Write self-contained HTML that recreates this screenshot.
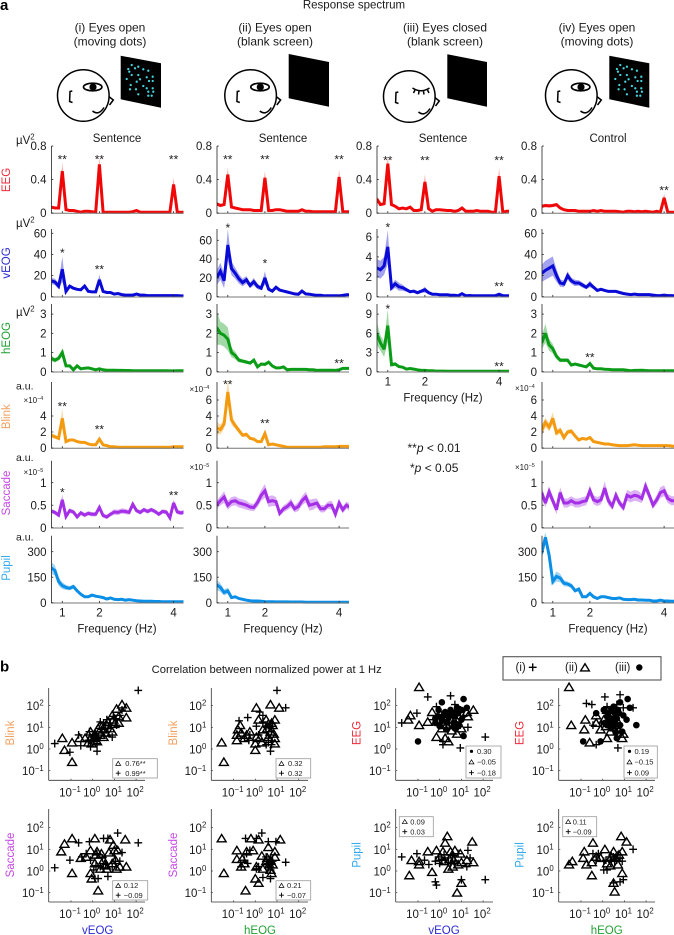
<!DOCTYPE html>
<html>
<head>
<meta charset="utf-8">
<style>
html,body{margin:0;padding:0;background:#fff;width:674px;height:935px;overflow:hidden}
svg{display:block}
text{font-family:"Liberation Sans",sans-serif;fill:#1a1a1a}
</style>
</head>
<body>
<svg id="fig" width="674" height="935" viewBox="0 0 674 935" xmlns="http://www.w3.org/2000/svg"></svg>
<script>
/* ---------- spectrum data ---------- */
const freqs=[0.7,0.8,0.9,1.0,1.1,1.2,1.3,1.4,1.5,1.6,1.7,1.8,1.9,2.0,2.1,2.2,2.3,2.4,2.5,2.6,2.7,2.8,2.9,3.0,3.1,3.2,3.3,3.4,3.5,3.6,3.7,3.8,3.9,4.0,4.1,4.2,4.3];
const freqTicks=[1,2,4];

const eegM1=[.07,.06,.06,.50,.04,.03,.03,.02,.01,.02,.02,.015,.01,.58,.01,.01,.01,.01,.01,.01,.01,.01,.015,.03,.01,.01,.01,.01,.01,.01,.01,.01,.01,.34,.01,.01,.01];
const eegS1=[.015,.01,.01,.10,.01,.008,.008,.006,.005,.006,.006,.005,.005,.09,.005,.005,.005,.005,.005,.005,.005,.005,.005,.008,.005,.005,.005,.005,.005,.005,.005,.005,.005,.08,.005,.005,.005];
const eegM2=[.11,.09,.10,.46,.07,.06,.05,.04,.04,.04,.03,.03,.03,.42,.03,.03,.04,.04,.03,.02,.02,.02,.02,.04,.02,.02,.015,.015,.015,.015,.015,.015,.015,.43,.015,.015,.015];
const eegS2=[.02,.015,.015,.08,.012,.01,.01,.008,.008,.008,.006,.006,.006,.08,.006,.006,.006,.006,.006,.005,.005,.005,.005,.008,.005,.005,.005,.005,.005,.005,.005,.005,.005,.09,.005,.005,.005];
const eegM3=[.17,.10,.11,.59,.10,.08,.05,.06,.05,.07,.03,.03,.04,.37,.05,.02,.04,.04,.035,.03,.03,.02,.03,.06,.02,.02,.02,.03,.02,.02,.02,.01,.01,.44,.01,.02,.02];
const eegS3=[.025,.015,.015,.09,.015,.012,.01,.01,.01,.01,.008,.008,.008,.09,.01,.006,.008,.008,.007,.006,.006,.005,.006,.01,.005,.005,.005,.006,.005,.005,.005,.005,.005,.10,.005,.005,.005];
const eegM4=[.08,.09,.085,.09,.10,.06,.04,.03,.03,.03,.02,.02,.02,.02,.03,.02,.03,.02,.02,.02,.02,.015,.01,.02,.02,.015,.02,.015,.02,.015,.01,.02,.01,.18,.01,.01,.01];
const eegS4=[.02,.02,.02,.02,.02,.012,.01,.008,.008,.008,.006,.006,.006,.006,.006,.006,.006,.005,.005,.005,.005,.005,.005,.005,.005,.005,.005,.005,.005,.005,.005,.005,.005,.05,.005,.005,.005];

const veogM1=[15,14,10,26,5,10,8,7,6.5,10,5,4.5,4.5,16,5,4,4,2.5,3,2,1.5,1.5,1.5,2.5,1.5,1.5,1,1,1,1,1,1,1,1,1,.8,.8];
const veogS1=[3,3,3,12,1.5,1.5,1.5,1,1,1.5,1,1,1,5,1,1,.8,.6,.6,.5,.4,.4,.4,.5,.4,.4,.3,.3,.3,.3,.3,.3,.3,.3,.3,.3,.3];
const veogM2=[20,27,17,55,30,25,19,15,18,12,16,11,9,20,8,6,10,7,6,5,4,3,2.5,6,3,2.5,2,1.5,1.5,1,1,1,1,1,1.5,2,2];
const veogS2=[8,9,8,17,7,6,5,4,4,3,4,3,2,7,2,1.5,2,1.5,1,1,1,.8,.7,1.2,.7,.6,.5,.5,.5,.4,.4,.4,.4,.5,.6,.6,.6];
const veogM3=[2.9,2.7,3.1,5.0,.9,1.3,1.0,.9,.7,.5,.55,.4,.55,.7,.4,.25,.25,.2,.2,.2,.15,.15,.1,.3,.1,.12,.1,.1,.1,.1,.1,.1,.1,.25,.1,.1,.1];
const veogS3=[.9,.9,.9,1.7,.3,.4,.4,.3,.2,.15,.15,.12,.15,.3,.1,.08,.08,.07,.06,.06,.05,.05,.05,.08,.05,.05,.04,.04,.04,.04,.04,.04,.04,.08,.04,.04,.04];
const veogM4=[22,25,27,29,20,13,12,20,15,13,13,11,9,12,9,6,7,6,5,5,5,4,3,2.5,2,2.5,2,2,2,2,1.5,1,1,1.5,1,1,.8];
const veogS4=[8,9,9,9,6,3.5,3,4,3,3,2.5,2.5,2,3,2,1.5,1.5,1,1,1,.8,.8,.6,.6,.5,.5,.5,.5,.5,.4,.4,.3,.3,.4,.3,.3,.3];

const heogM1=[.7,.6,.7,1.0,.3,.3,.1,.3,.15,.18,.2,.15,.1,.15,.1,.08,.08,.08,.07,.07,.06,.06,.05,.05,.05,.05,.05,.05,.05,.05,.05,.05,.04,.04,.05,.05,.05];
const heogS1=[.15,.12,.12,.2,.06,.05,.03,.05,.03,.03,.03,.03,.02,.03,.02,.02,.02,.02,.02,.02,.02,.02,.02,.02,.02,.02,.02,.02,.02,.02,.02,.02,.02,.02,.02,.02,.02];
const heogM2=[2.3,2.0,1.9,1.7,1.0,.85,.6,.55,.5,.45,.6,.25,.4,.38,.5,.3,.2,.2,.25,.1,.12,.12,.12,.12,.12,.1,.1,.07,.08,.08,.08,.08,.07,.1,.17,.17,.17];
const heogS2=[.9,.6,.6,.6,.25,.2,.12,.1,.1,.08,.1,.06,.08,.08,.08,.06,.05,.05,.05,.03,.03,.03,.03,.03,.03,.03,.03,.03,.03,.03,.03,.03,.03,.03,.04,.04,.04];
const heogM3=[6,4.5,3.5,7.2,1.1,1.2,.8,.7,.4,.5,.4,.3,.2,.2,.15,.15,.1,.1,.1,.08,.08,.08,.07,.07,.07,.06,.06,.06,.06,.06,.06,.06,.06,.06,.06,.06,.06];
const heogS3=[1.8,1.2,1.2,2.6,.3,.3,.2,.15,.1,.1,.1,.08,.06,.06,.05,.05,.04,.04,.04,.03,.03,.03,.03,.03,.03,.03,.03,.03,.03,.03,.03,.03,.03,.03,.03,.03,.03];
const heogM4=[1.5,2,1.4,1.2,.8,.6,.6,.6,.35,.4,.35,.3,.25,.42,.18,.15,.15,.13,.12,.1,.1,.1,.1,.08,.05,.07,.07,.08,.06,.05,.05,.05,.05,.05,.05,.05,.05];
const heogS4=[.35,.5,.3,.25,.15,.1,.1,.1,.05,.05,.05,.05,.04,.06,.03,.03,.03,.03,.02,.02,.02,.02,.02,.02,.02,.02,.02,.02,.02,.02,.02,.02,.02,.02,.02,.02,.02];

const blinkM1=[1.6,1.4,1.2,3.7,.8,1,1,.8,.7,.7,.5,.4,.4,1.1,.4,.3,.15,.15,.1,.1,.1,.1,.1,.1,.1,.1,.1,.1,.1,.1,.1,.1,.1,.15,.15,.15,.15];
const blinkS1=[.3,.25,.2,1.2,.15,.15,.15,.12,.1,.1,.08,.08,.08,.35,.08,.06,.05,.05,.05,.05,.05,.05,.05,.05,.05,.05,.05,.05,.05,.05,.05,.05,.05,.05,.05,.05,.05];
const blinkM2=[2.5,2.3,3,7,3.5,2.8,2.2,1.6,1.7,1.2,1.1,.8,.8,1.8,.4,.5,.4,.3,.2,.1,.1,.1,.1,.1,.1,.1,.1,.1,.1,.15,.15,.15,.15,.2,.2,.2,.2];
const blinkS2=[.8,.6,.6,1.6,.6,.4,.35,.25,.25,.2,.2,.15,.15,.45,.1,.1,.08,.06,.05,.05,.05,.05,.05,.05,.05,.05,.05,.05,.05,.05,.05,.05,.05,.05,.05,.05,.05];
const blinkM4=[2.2,3.2,2.6,3.7,1.9,2.2,1.3,2,2.1,1.5,1,1.2,1.1,1.3,.8,.7,.6,.5,.5,.4,.35,.3,.3,.3,.35,.4,.35,.3,.3,.3,.3,.3,.3,.3,.3,.25,.2];
const blinkS4=[.7,.6,.5,.8,.4,.4,.3,.3,.3,.25,.2,.2,.15,.2,.1,.1,.1,.08,.08,.06,.06,.06,.05,.05,.05,.05,.05,.05,.05,.05,.05,.05,.05,.05,.05,.05,.05];

const sacM1=[.37,.34,.28,.62,.25,.38,.35,.24,.33,.28,.32,.3,.3,.45,.27,.24,.3,.35,.34,.37,.36,.34,.52,.38,.34,.4,.36,.4,.36,.3,.36,.35,.22,.55,.35,.33,.35];
const sacS1=[.05,.05,.05,.12,.05,.05,.05,.05,.05,.05,.05,.05,.05,.07,.05,.05,.05,.06,.06,.06,.06,.05,.06,.05,.05,.05,.05,.05,.05,.05,.05,.05,.05,.08,.05,.05,.05];
const sacM2=[.5,.6,.68,.5,.58,.6,.55,.53,.5,.46,.45,.56,.72,.82,.58,.6,.58,.32,.42,.47,.55,.42,.47,.6,.68,.5,.52,.55,.42,.42,.5,.5,.3,.55,.4,.5,.45];
const sacS2=[.1,.1,.13,.1,.1,.1,.1,.1,.1,.08,.08,.1,.12,.15,.12,.12,.1,.06,.08,.08,.1,.08,.1,.1,.12,.12,.12,.1,.08,.08,.08,.1,.08,.1,.08,.08,.08];
const sacM4=[.78,.55,.8,.6,.4,.78,.55,.55,.6,.55,.55,.58,.6,.82,.62,.58,.62,.88,.6,.48,.72,.55,.45,.72,.68,.72,.7,.65,.92,.72,.5,.62,.78,.82,.65,.6,.6];
const sacS4=[.12,.1,.12,.1,.1,.12,.1,.1,.1,.1,.1,.1,.1,.12,.1,.1,.1,.15,.1,.08,.1,.08,.08,.12,.12,.12,.12,.1,.12,.1,.08,.1,.12,.12,.1,.1,.1];

const pupM1=[205,190,125,100,90,85,95,70,50,35,35,45,38,35,30,22,28,20,18,20,15,18,15,12,10,8,8,8,7,7,6,6,6,6,6,6,6];
const pupS1=[35,30,25,20,15,12,12,10,8,6,6,6,5,5,5,4,4,4,4,4,3,3,3,3,3,3,3,3,3,3,3,3,3,3,3,3,3];
const pupM2=[105,90,60,70,30,35,25,20,15,12,10,10,8,6,6,6,5,5,5,5,4,4,4,4,3,3,3,3,3,3,3,3,3,3,3,3,3];
const pupS2=[30,25,18,18,8,8,6,5,4,3,3,3,3,2,2,2,2,2,2,2,2,2,2,2,2,2,2,2,2,2,2,2,2,2,2,2,2];
const pupM4=[290,385,280,125,155,145,115,110,100,70,80,35,35,55,35,25,35,35,30,25,25,28,20,18,18,20,16,16,15,15,10,10,15,10,10,9,8];
const pupS4=[40,30,30,20,30,25,18,15,15,10,12,6,6,8,6,5,5,5,4,4,4,4,3,3,3,3,3,3,3,3,3,3,3,3,3,3,3];

const eegTicks=[0,0.4,0.8];
const eegTickText=["0","0.4","0.8"];
const veogTicks=[0,20,40,60];
const veogTicksC3=[0,2,4,6];
const heogTicks=[0,1,2,3];
const heogTicksC3=[0,3,6,9];
const blinkTicksC1=[0,2,4];
const blinkTicksC2=[0,2,4,6];
const sacTicks=[0,0.5,1];
const pupTicks=[0,150,300];

/* ---------- scatter data: log10(power) pairs [x, y] ---------- */
const blinkVeogTri=[[-1.4,.5],[-1.3,-.05],[-.95,.3],[-.95,-.6],[-.6,.5],[-.35,.5],[-.1,.5],[.1,.7],[.2,.35],[.35,1.1],[.35,.65],[.5,.9],[.65,1.1],[.8,.95],[.9,1.55],[.95,1.35],[1.1,1.85],[1.35,2.05],[1.55,1.9],[1.55,1.45],[1.2,1.5],[.7,1.25],[-.05,.25],[.25,.95],[.05,.5],[.5,.55],[.9,.8],[-.1,.8],[.6,.75],[1,1.15],[.3,.8],[-.2,.3],[.15,.55],[1.2,1.2]];
const blinkVeogPlus=[[2.1,2.7],[-1.75,.25],[-1.05,-.15],[-.65,.65],[-.55,.15],[-.15,.8],[-.1,.1],[.2,-.1],[.05,.35],[.35,1.25],[.65,1.35],[.9,.55],[1.05,1.4],[1.35,1.8],[1.25,1.55],[.7,.95],[.5,1.2],[.25,.55],[-.05,.4],[.8,1.1],[.2,.25],[-.2,.4],[.95,1.5],[.4,.9],[.6,1.1],[1.1,1.1],[.1,.6]];
const blinkHeogTri=[[-1.55,.3],[-1.45,-.6],[-.85,.4],[-.8,.9],[-.7,1.1],[-.4,.65],[.05,1.9],[.15,1.35],[0,.25],[0,-.05],[.05,.55],[.7,2.05],[1.1,1.9],[.5,1.35],[.9,1.35],[.9,.5],[.6,.55],[.35,.9],[-.25,.8],[-.5,.5],[.7,.8],[.9,.25],[.2,.5],[.8,1.1],[-.85,.65],[.55,.95],[.75,1.2],[.3,.3],[-.65,.75],[.6,1.15],[.85,.7]];
const blinkHeogPlus=[[1,2.7],[1.4,1.9],[-.75,1.3],[-.35,1.45],[.2,1.7],[.35,1.55],[.7,-.1],[.5,.2],[.6,.5],[-.5,.5],[-.3,.4],[.8,1.2],[.5,1.05],[.35,1.25],[.75,.8],[.75,.2],[.05,1.05],[-.25,.65],[.65,1],[.6,.3],[.15,.65],[-.1,.4]];
const sacVeogTri=[[-1.3,1.25],[-1.45,.9],[-.95,1.5],[-.95,-.1],[-.55,.6],[-.1,.95],[.2,.9],[.1,1.5],[-.1,-.1],[-.05,-.35],[.25,-.9],[.8,1.45],[.95,1.2],[1.15,.95],[1.5,1.45],[1.55,.2],[1.25,.2],[.9,.35],[.5,.5],[.1,.35],[.35,.1],[.65,.1],[-.3,.65],[.4,.8],[1.05,.5],[1.1,.1],[.55,.3],[.75,.85],[.15,.75],[1,.95],[.6,.25]];
const sacVeogPlus=[[-1.75,.15],[-1.05,.5],[-.65,1.3],[-.15,1.35],[.5,1.5],[1.15,1.75],[2.1,1.3],[.7,-.25],[.1,-.35],[.25,-.35],[-.3,.8],[-.1,.5],[1.35,.85],[1.05,.45],[.2,.8],[.35,.2],[.9,.2],[1.25,.45],[.7,1.5],[.05,.05],[-.5,.65],[.6,.3],[.45,.6],[1,.8],[.15,.25]];
const sacHeogTri=[[-1.55,1.5],[-1.45,-.1],[-.85,.95],[-.85,.55],[-.65,.2],[-.45,-.9],[-.2,1.5],[.15,1.45],[-.4,.9],[0,-.35],[.15,-.55],[.05,.2],[.6,1.1],[1.15,1.45],[.9,.9],[.75,-.1],[.5,.45],[.7,.5],[.35,.1],[-.1,.95],[.9,.65],[-.5,.35],[.55,.6],[.8,.3],[.7,.05],[-.6,.55],[.3,.7],[.65,.3]];
const sacHeogPlus=[[.3,1.75],[-.45,1.5],[.05,1.5],[.6,1.35],[.95,1.35],[1.4,.4],[.35,-.3],[.7,-.35],[.7,.5],[-.5,.5],[-.65,.2],[-.25,.95],[.15,.2],[.7,.05],[.5,.65],[.8,.45],[-.4,.8],[.05,.1],[.55,.35],[.6,.15],[.75,.3],[-.35,.35]];
const eegVeogTri=[[-.95,2.85],[-1.35,1.55],[-1.45,1.35],[-.95,1.1],[-.55,1.25],[-.35,1.7],[-.15,.55],[.25,.5],[.4,.35],[0,1.65],[.3,1.5],[.8,.7],[1,.95],[1.3,1.5],[1.55,1.8],[1.25,1.7],[.65,1.1],[.1,.95],[.85,1.55],[.5,1.35],[.3,1.1],[.75,1.15],[-.1,1.35],[.55,.85]];
const eegVeogPlus=[[-1.75,1.2],[-1.05,1.65],[-.55,2.4],[.5,2.45],[.7,2.05],[2.1,.55],[.95,.05],[.15,.2],[.15,.35],[1.3,1],[-.15,1.95],[0,1.2],[.8,.95],[1.1,1.5],[.3,1.1],[.55,1.65],[-.3,1.35],[.95,1.8],[.45,1.2],[.75,1.25],[.1,1.5]];
const eegVeogDot=[[-1,.35],[1.1,2.3],[.1,2.15],[1.1,.6],[-.05,1.8],[-.2,1.2],[0,1.05],[.15,1.5],[.5,1.8],[.7,.95],[.8,1.9],[1.25,1.9],[1,1.35],[-.05,1.5],[.3,.9],[.65,1.2],[.85,1.65],[-.2,1.4],[.25,1.7],[1,1.8],[.7,1.5],[.4,1.5],[.55,1.55],[.1,1.3],[.75,1.7],[.35,1.25],[.9,1.1]];
const eegHeogTri=[[-1.55,2.85],[-1.45,1.1],[-.8,1.35],[-.85,.9],[-.6,.3],[-.3,1.2],[.2,.5],[.9,.5],[.95,.7],[-.3,1.55],[.2,1.8],[.5,1],[.35,.8],[.7,1.25],[-.1,.9],[.05,1.35],[.3,1.3],[.55,1.1],[.15,1.05],[.75,.9]];
const eegHeogPlus=[[-.75,2.1],[-.5,2.05],[.1,2.4],[.8,2.5],[1.4,1.9],[.7,.05],[-.3,.2],[-.45,1.1],[.2,1.95],[.95,1.9],[.5,1.5],[.8,.8],[-.05,1.2],[.35,1.65],[.65,2.05],[.25,1.05],[.4,1.35],[.6,.95]];
const eegHeogDot=[[-.9,.35],[-.1,.35],[1.55,1.1],[1.15,2.3],[.8,2.15],[1.25,1.9],[-.3,1.65],[.2,1.5],[.4,1.8],[.55,1.65],[.35,1.25],[.8,1.1],[1.1,1.35],[.65,.5],[.4,.95],[.1,1.2],[.95,1.55],[.65,1.4],[.5,1.95],[.25,1.65],[.9,.8],[.05,1.8],[.5,1.35],[.6,1.15],[.3,1.45],[.7,1.8],[.45,1.05],[.75,1.65],[.2,1.1],[.6,.75]];
const pupVeogTri=[[-1.4,-.2],[-1.3,.5],[-.95,.45],[-.95,.3],[-.55,.9],[-.35,-.05],[-.15,.95],[.35,1.6],[.25,1.3],[1.5,1.35],[1.55,.4],[.8,-1],[1,-.55],[.95,.8],[.4,.1],[0,.65],[.65,.5],[.85,.3],[1.25,.5],[.15,.9],[.5,.9],[.7,.95],[.2,.45],[.45,.55],[.6,.2],[1,.4]];
const pupVeogPlus=[[-1.75,.65],[-1.05,.8],[-.7,.5],[-.5,.3],[-.2,-.5],[-.15,-.65],[1,-.4],[2.1,-.4],[1.3,.95],[-.05,.65],[.25,.5],[.7,.45],[1.25,.2],[0,.35],[.85,.8],[.5,.35],[-.2,.45],[1.4,.6],[.1,.55],[.4,.6],[.6,.7],[.2,.75]];
const pupHeogTri=[[-1.55,.3],[-1.4,.45],[-.85,.9],[-.9,.6],[-.75,.3],[-.5,-.2],[-.45,1.3],[-.3,.65],[.1,1],[.5,.9],[.85,1.6],[1.1,1.35],[.9,.9],[.9,-.1],[.55,-.95],[.5,-.55],[.7,.3],[.2,.35],[-.1,.6],[.4,.65],[.35,.25],[.6,.6],[-.5,.4],[.75,.75]];
const pupHeogPlus=[[1.4,1],[-.45,.8],[-.3,.5],[.95,-.4],[.8,-.5],[.05,.05],[.2,.05],[.5,-.55],[-.2,.8],[.5,.65],[.8,.6],[.65,.5],[.05,.45],[.35,.65],[.9,.45],[-.3,.65],[.55,.45],[.7,.75],[.15,.5],[.4,.45]];
const logTicks=[-1,0,1,2];

/* ---------- helpers ---------- */
const NS='http://www.w3.org/2000/svg';
const fig=document.getElementById('fig');
function mk(tag,attrs,parent){
  const e=document.createElementNS(NS,tag);
  for(const k in attrs){e.setAttribute(k,attrs[k]);}
  (parent||fig).appendChild(e);
  return e;
}
function label(str,x,y,size,anchor,color,parent,rot,weight){
  const attrs={x:x,y:y,'font-size':size,'text-anchor':anchor||'start'};
  if(color){attrs.style='fill:'+color;}
  if(rot){attrs.transform='rotate(-90 '+x+' '+y+')';}
  if(weight){attrs['font-weight']=weight;}
  const t=mk('text',attrs,parent);
  t.textContent=str;
  
  
  return t;
}
function exponent(base,power,x,y,size,anchor,parent){
  const t=mk('text',{x:x,y:y,'font-size':size,'text-anchor':anchor},parent);
  
  
  const a=mk('tspan',{},t);a.textContent=base;
  const b=mk('tspan',{dy:-size*0.38,'font-size':size*0.68},t);b.textContent=power;
  return t;
}

/* ---------- header text ---------- */
const panelA=label('a',0,10,15,'start','#000',fig,null,'bold');

const specTitle=label('Response spectrum',354,8.5,11.5,'middle');

const condCenters=[110,275,445,597];
const condA=['(i) Eyes open','(ii) Eyes open','(iii) Eyes closed','(iv) Eyes open'];
const condB=['(moving dots)','(blank screen)','(blank screen)','(moving dots)'];
condCenters.forEach(function(cx,i){
  const a=label(condA[i],cx,31.5,12,'middle');
  
  const b=label(condB[i],cx,45.5,12,'middle');
  
});

/* ---------- face illustrations ---------- */
const dotCoords=[[131.7,65],[128.3,69],[138.3,66.7],[135,68.3],[143.3,69.3],[148.3,70.7],[129.3,71.7],[131.7,75],[126.7,79],[138.3,75],[140,79.3],[146.7,77.3],[152.7,76.7],[149,81],[152.7,81],[130.7,85],[136.7,81.7],[130,89.3],[136,89.3],[143.3,86],[146.7,88.3],[152.7,88.3],[148.3,91.7],[153.3,91.7],[138.3,94.3],[148.3,95.7],[151.7,95.7]];
function face(dx,dy,closed,screen,dots){
  const g=mk('g',{transform:'translate('+dx+' '+dy+')'});
  
  
  const st={fill:'none',stroke:'#000','stroke-width':1.5};
  mk('circle',Object.assign({cx:83.3,cy:95.5,r:25.8},st),g);
  mk('path',Object.assign({d:'M72.3 91 L70 91.5 L69.6 101.5 L72.5 102.5'},st),g);
  mk('path',Object.assign({d:'M108.8 96.5 L113.3 100 L109.5 105'},st),g);
  mk('path',Object.assign({d:'M92.5 111 Q98.5 116 104 107.5'},st),g);
  if(closed){
    mk('path',Object.assign({d:'M86.5 87 Q95 92.5 103.5 87'},st),g);
    mk('path',Object.assign({d:'M89 89 L87.5 92 M93 90.3 L92.5 93.5 M97.5 90.3 L98 93.5 M101.5 89 L103 92'},st),g);
  }else{
    mk('ellipse',{cx:92.7,cy:87,rx:9.2,ry:3.8,fill:'#fff',stroke:'#000','stroke-width':1.7},g);
    mk('circle',{cx:93,cy:87,r:3.6,fill:'#000'},g);
  }
  const s=mk('polygon',{points:screen,fill:'#000'});
  
  
  if(dots){
    dotCoords.forEach(function(d){
      const c=mk('circle',{cx:d[0]+dots,cy:d[1],r:1.15,fill:'#45d4dc'});
      
      
    });
  }
}
face(0,0,false,'120.7,55.7 161,63.3 161,107.7 120.7,99.3',0.001);
face(167.3,0,false,'288.7,54 329,62 329,106.7 288.7,98.3',0);
face(326,1,true,'447.3,54.3 487,62 487,106.7 447.3,98.3',0);
face(488,0,false,'609.3,55.7 649.3,63.3 649.3,107.7 609.3,99.3',488.6);

/* ---------- spectrum panels ---------- */
const colLeft=[51.5,217,377,542];
const colW=132;
const C={eeg:'#f00808',veog:'#0a0ad6',heog:'#0a9c16',blink:'#f39a10',sac:'#a42fe6',pup:'#0a8ee6'};
const rowGeom={
  eeg:{y0:213,top:146},veog:{y0:296.7,top:229},heog:{y0:371.7,top:304},
  blink:{y0:448,top:382},sac:{y0:527.7,top:460.7},pup:{y0:602.7,top:535.7}
};
function spectrum(o){
  const left=colLeft[o.col],g=rowGeom[o.row],color=C[o.row];
  const sx=function(f){return left+10.8+(f-1)*37.1;};
  const sy=function(v){return g.y0-v*o.ppu;};
  const gr=mk('g',{});
  
  
  const cid='clip-'+o.name;
  const cp=mk('clipPath',{id:cid},gr);
  mk('rect',{x:left,y:g.top-12,width:colW,height:g.y0-g.top+13},cp);
  const plot=mk('g',{'clip-path':'url(#'+cid+')'},gr);
  let up='',dn='',ln='';
  o.m.forEach(function(v,i){
    const f=freqs[i];
    up+=(i?'L':'M')+sx(f).toFixed(1)+' '+sy(v+o.s[i]).toFixed(1)+' ';
    ln+=(i?'L':'M')+sx(f).toFixed(1)+' '+sy(v).toFixed(1)+' ';
  });
  for(let i=o.m.length-1;i>=0;i--){
    dn+='L'+sx(freqs[i]).toFixed(1)+' '+sy(Math.max(0,o.m[i]-o.s[i])).toFixed(1)+' ';
  }
  const band=mk('path',{d:up+dn+'Z',fill:color,'fill-opacity':0.38},plot);
  
  
  const line=mk('path',{d:ln,fill:'none',stroke:color,'stroke-width':3,'stroke-linejoin':'miter','stroke-miterlimit':3},plot);
  
  
  /* axes */
  const xa=mk('line',{x1:left,x2:left+colW,y1:g.y0+0.3,y2:g.y0+0.3,stroke:'#777','stroke-width':1},gr);
  
  
  const ya=mk('line',{x1:left,x2:left,y1:g.top,y2:g.y0+0.6,stroke:'#222','stroke-width':0.8},gr);
  
  
  freqTicks.forEach(function(f){
    const t=mk('line',{x1:sx(f),x2:sx(f),y1:g.y0,y2:g.y0-1.8,stroke:'#222','stroke-width':0.8},gr);
    
    
    if(o.xlab){
      const tl=label(String(f),sx(f),g.y0+13.6,11.5,'middle',null,gr);
      
    }
  });
  o.ticks.forEach(function(v,i){
    const t=mk('line',{x1:left,x2:left+1.8,y1:sy(v),y2:sy(v),stroke:'#222','stroke-width':0.8},gr);
    
    
    const tl=label(o.tickText?o.tickText[i]:String(v),left-5,sy(v)+4.1,11.5,'end',null,gr);
    
  });
  (o.stars||[]).forEach(function(s){
    const st=label(s[2],sx(s[0]),sy(s[1])+6.6,12,'middle','#222',gr);
    
  });
  if(o.xlab){
    const xl=label('Frequency (Hz)',o.xc,g.y0+30,11.5,'middle',null,gr);
    
  }
}
const P=[
 {name:'eeg-sentence-i',row:'eeg',col:0,m:eegM1,s:eegS1,ppu:83.75,ticks:eegTicks,tickText:eegTickText,stars:[[1,.67,'**'],[2,.67,'**'],[4,.67,'**']]},
 {name:'eeg-sentence-ii',row:'eeg',col:1,m:eegM2,s:eegS2,ppu:83.75,ticks:eegTicks,tickText:eegTickText,stars:[[1,.67,'**'],[2,.67,'**'],[4,.67,'**']]},
 {name:'eeg-sentence-iii',row:'eeg',col:2,m:eegM3,s:eegS3,ppu:83.75,ticks:eegTicks,tickText:eegTickText,stars:[[1,.66,'**'],[2,.66,'**'],[4,.66,'**']]},
 {name:'eeg-control-iv',row:'eeg',col:3,m:eegM4,s:eegS4,ppu:83.75,ticks:eegTicks,tickText:eegTickText,stars:[[4,.3,'**']]},
 {name:'veog-i',row:'veog',col:0,m:veogM1,s:veogS1,ppu:1.057,ticks:veogTicks,stars:[[1,44,'*'],[2,28,'**']]},
 {name:'veog-ii',row:'veog',col:1,m:veogM2,s:veogS2,ppu:.94,ticks:veogTicks,stars:[[1,76,'*'],[2,38,'*']]},
 {name:'veog-iii',row:'veog',col:2,m:veogM3,s:veogS3,ppu:9.95,ticks:veogTicksC3,stars:[[1,7.2,'*'],[4,1.3,'**']]},
 {name:'veog-iv',row:'veog',col:3,m:veogM4,s:veogS4,ppu:1.057,ticks:veogTicks},
 {name:'heog-i',row:'heog',col:0,m:heogM1,s:heogS1,ppu:19.2,ticks:heogTicks},
 {name:'heog-ii',row:'heog',col:1,m:heogM2,s:heogS2,ppu:19.2,ticks:heogTicks,stars:[[4,.57,'**']]},
 {name:'heog-iii',row:'heog',col:2,m:heogM3,s:heogS3,ppu:6.4,ticks:heogTicksC3,stars:[[1,10.2,'*'],[4,1.2,'**']],xlab:true,xc:443},
 {name:'heog-iv',row:'heog',col:3,m:heogM4,s:heogS4,ppu:19.2,ticks:heogTicks,stars:[[2,.87,'**']]},
 {name:'blink-i',row:'blink',col:0,m:blinkM1,s:blinkS1,ppu:8,ticks:blinkTicksC1,stars:[[1,5.5,'**'],[2,2.65,'**']]},
 {name:'blink-ii',row:'blink',col:1,m:blinkM2,s:blinkS2,ppu:8,ticks:blinkTicksC2,stars:[[1,8.25,'**'],[2,3.4,'**']]},
 {name:'blink-iv',row:'blink',col:3,m:blinkM4,s:blinkS4,ppu:8,ticks:blinkTicksC2},
 {name:'saccade-i',row:'sac',col:0,m:sacM1,s:sacS1,ppu:45,ticks:sacTicks,stars:[[1,.84,'*'],[4,.77,'**']]},
 {name:'saccade-ii',row:'sac',col:1,m:sacM2,s:sacS2,ppu:45,ticks:sacTicks},
 {name:'saccade-iv',row:'sac',col:3,m:sacM4,s:sacS4,ppu:45,ticks:sacTicks},
 {name:'pupil-i',row:'pup',col:0,m:pupM1,s:pupS1,ppu:.17,ticks:pupTicks,xlab:true,xc:117},
 {name:'pupil-ii',row:'pup',col:1,m:pupM2,s:pupS2,ppu:.17,ticks:pupTicks,xlab:true,xc:283},
 {name:'pupil-iv',row:'pup',col:3,m:pupM4,s:pupS4,ppu:.17,ticks:pupTicks,xlab:true,xc:608}
];
P.forEach(spectrum);

/* spectrum annotations */
[['Sentence',117],['Sentence',283],['Sentence',443],['Control',608]].forEach(function(a){
  const t=label(a[0],a[1],142,11.5,'middle');
  
});
[['EEG',180,'#ee2b3c'],['vEOG',263,'#2a2ad2'],['hEOG',338,'#21a034'],['Blink',416.7,'#f2a062'],['Saccade',493,'#c447e4'],['Pupil',568,'#33aaee']].forEach(function(a){
  const t=label(a[0],10,a[1],11.5,'middle',a[2],fig,true);
  
});
[[16,144],[16,227],[16,316]].forEach(function(a){
  const t=exponent('\u00B5V','2',a[0],a[1],11.5,'start');
  
});
[[16,389.5],[16,461],[16,540.5]].forEach(function(a){
  const t=label('a.u.',a[0],a[1],10.5,'start');
  
});
[[23.5,403,'\u22124'],[189.5,392,'\u22124'],[515,391,'\u22124'],[23.5,475,'\u22125'],[189.5,470,'\u22125'],[515,470,'\u22125']].forEach(function(a){
  const t=exponent('\u00D710',a[2],a[0],a[1],8,'start');
  
});
const pvA=mk('text',{x:407.5,y:452,'font-size':12});


pvA.innerHTML='**<tspan font-style="italic">p</tspan> &lt; 0.01';
const pvB=mk('text',{x:410,y:472,'font-size':12});


pvB.innerHTML='*<tspan font-style="italic">p</tspan> &lt; 0.05';

/* ---------- panel b ---------- */
const panelB=label('b',0,671.5,15,'start','#000',fig,null,'bold');

const corrTitle=label('Correlation between normalized power at 1 Hz',266.7,673,11.2,'middle');


function tri(x,y,parent,s){
  return mk('path',{d:'M'+x+' '+(y-s)+' L'+(x+s*1.12)+' '+(y+s*0.85)+' L'+(x-s*1.12)+' '+(y+s*0.85)+' Z',fill:'none',stroke:'#000','stroke-width':s>2.5?1.4:0.7},parent);
}
function plus(x,y,parent,s){
  return mk('path',{d:'M'+(x-s)+' '+y+' H'+(x+s)+' M'+x+' '+(y-s)+' V'+(y+s),fill:'none',stroke:'#000','stroke-width':s>2.5?1.35:0.9},parent);
}
const scLeft=[48.7,211.3,395.7,558.7];
const scRight=[145,308,493,655];
const scRowTop=[688,809];
const scRowBot=[780.3,902];
const scRowZero=[749,871];
const scRowLab=[733,855];
const PPD=21.7;
const scatterColors={Blink:'#f2a062',Saccade:'#c447e4',EEG:'#ee2b3c',Pupil:'#33aaee',vEOG:'#2a2ad2',hEOG:'#21a034'};
function scatter(o){
  const x0=scLeft[o.c]+44,y0=scRowZero[o.r];
  const sx=function(d){return x0+d*PPD;};
  const sy=function(d){return y0-d*PPD;};
  const g=mk('g',{});
  
  
  const xa=mk('line',{x1:scLeft[o.c],x2:scRight[o.c],y1:scRowBot[o.r],y2:scRowBot[o.r],stroke:'#333','stroke-width':0.8},g);
  
  
  const ya=mk('line',{x1:scLeft[o.c],x2:scLeft[o.c],y1:scRowTop[o.r],y2:scRowBot[o.r],stroke:'#333','stroke-width':0.8},g);
  
  
  logTicks.forEach(function(d){
    const tx=mk('line',{x1:sx(d),x2:sx(d),y1:scRowBot[o.r],y2:scRowBot[o.r]-1.6,stroke:'#333','stroke-width':0.7},g);
    
    
    const ty=mk('line',{x1:scLeft[o.c],x2:scLeft[o.c]+1.6,y1:sy(d),y2:sy(d),stroke:'#333','stroke-width':0.7},g);
    
    
    const pw=d<0?'\u2212'+Math.abs(d):String(d);
    const xl=exponent('10',pw,sx(d)-1,scRowBot[o.r]+16,11.5,'middle',g);
    
    const yl=exponent('10',pw,scLeft[o.c]-5,sy(d)+4.5,11.5,'end',g);
    
  });
  (o.dot||[]).forEach(function(p){
    const m=mk('circle',{cx:sx(p[0]),cy:sy(p[1]),r:3.3,fill:'#000'},g);
    
    
  });
  o.tri.forEach(function(p){
    const m=tri(sx(p[0]),sy(p[1]),g,4);
    
    
  });
  o.plus.forEach(function(p){
    const m=plus(sx(p[0]),sy(p[1]),g,3.9);
    
    
  });
  const yT=label(o.yName,o.yLabX,scRowLab[o.r],11.5,'middle',scatterColors[o.yName],g,true);
  
  if(o.r===1){
    const xT=label(o.xName,o.xLabX,934,11.5,'middle',scatterColors[o.xName],g);
    
  }
  /* correlation box */
  const b=o.box;
  const r=mk('rect',{x:b[0],y:b[1],width:b[2],height:b[3],fill:'#fff',stroke:'#999','stroke-width':0.8},g);
  
  
  const n=o.rows.length,step=b[3]/n;
  o.rows.forEach(function(row,i){
    const cy=b[1]+step*(i+0.5);
    if(row[0]==='t'){tri(b[0]+5.5,cy,g,2.2);}
    if(row[0]==='p'){plus(b[0]+5.5,cy,g,2.4);}
    if(row[0]==='d'){mk('circle',{cx:b[0]+5.5,cy:cy,r:1.6,fill:'#000'},g);}
    const t=label(row[1],b[0]+o.ind,cy+2.6,7.5,'start','#222',g);
    
  });
}
const S=[
 {name:'scatter-blink-veog',r:0,c:0,tri:blinkVeogTri,plus:blinkVeogPlus,yName:'Blink',yLabX:14,xName:'vEOG',box:[112.7,758.7,44.6,19.3],rows:[['t','0.76**'],['p','0.99**']],ind:12.5},
 {name:'scatter-blink-heog',r:0,c:1,tri:blinkHeogTri,plus:blinkHeogPlus,yName:'Blink',yLabX:177,xName:'hEOG',box:[276,758.7,34.7,19.3],rows:[['t','0.32'],['p','0.32']],ind:12},
 {name:'scatter-saccade-veog',r:1,c:0,tri:sacVeogTri,plus:sacVeogPlus,yName:'Saccade',yLabX:14,xName:'vEOG',xLabX:97.7,box:[112.7,880.7,35,19.3],rows:[['t','0.12'],['p','\u22120.09']],ind:11},
 {name:'scatter-saccade-heog',r:1,c:1,tri:sacHeogTri,plus:sacHeogPlus,yName:'Saccade',yLabX:177,xName:'hEOG',xLabX:260,box:[276,880.7,34.7,19.3],rows:[['t','0.21'],['p','\u22120.07']],ind:11},
 {name:'scatter-eeg-veog',r:0,c:2,tri:eegVeogTri,plus:eegVeogPlus,dot:eegVeogDot,yName:'EEG',yLabX:360.5,xName:'vEOG',box:[466,746,35,32],rows:[['d','0.30'],['t','\u22120.05'],['p','\u22120.18']],ind:11},
 {name:'scatter-eeg-heog',r:0,c:3,tri:eegHeogTri,plus:eegHeogPlus,dot:eegHeogDot,yName:'EEG',yLabX:523.5,xName:'hEOG',box:[624,746,33.3,32],rows:[['d','0.19'],['t','\u22120.15'],['p','0.09']],ind:10.5},
 {name:'scatter-pupil-veog',r:1,c:2,tri:pupVeogTri,plus:pupVeogPlus,yName:'Pupil',yLabX:360.5,xName:'vEOG',xLabX:444,box:[399.3,816.7,34,20],rows:[['t','0.09'],['p','0.03']],ind:11},
 {name:'scatter-pupil-heog',r:1,c:3,tri:pupHeogTri,plus:pupHeogPlus,yName:'Pupil',yLabX:523.5,xName:'hEOG',xLabX:606.7,box:[562.7,816.7,34,20],rows:[['t','0.11'],['p','\u22120.09']],ind:10}
];
S.forEach(scatter);

/* top legend of panel b */
const lg=mk('g',{});


const lgBox=mk('rect',{x:503,y:656.7,width:158,height:23.3,fill:'#fff',stroke:'#555','stroke-width':1.1},lg);


const li=label('(i)',515.5,671,11.5,'start',null,lg);

const lii=label('(ii)',565,671,11.5,'start',null,lg);

const liii=label('(iii)',615,671,11.5,'start',null,lg);

plus(532.7,667.3,lg,3.9);
tri(585,667.6,lg,3.9);
mk('circle',{cx:639.3,cy:667.5,r:3.2,fill:'#000'},lg);
</script>
</body>
</html>
